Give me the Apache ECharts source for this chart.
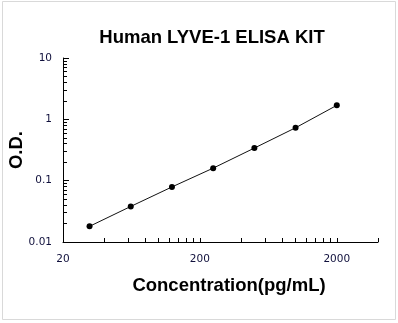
<!DOCTYPE html>
<html>
<head>
<meta charset="utf-8">
<style>
  html, body { margin: 0; padding: 0; background: #fff; }
  #chart { width: 398px; height: 323px; }
</style>
<script src="https://cdn.jsdelivr.net/npm/echarts@6/dist/echarts.min.js"></script>
</head>
<body>
<div id="chart"></div>
<script>
// standard curve points
const concentration = [31.25, 62.5, 125, 250, 500, 1000, 2000]
const od = [0.018, 0.038, 0.079, 0.160, 0.340, 0.729, 1.69]

// axis ticks (real values, log axes)
const xRange = [20, 4000]
const xLabelValues = [20, 200, 2000]
const xLabels = ['20', '200', '2000']
const xTickValues = [40, 60, 80, 100, 120, 140, 160, 180, 200, 400, 600, 800, 1000, 1200, 1400, 1600, 1800, 2000, 4000]
const yRange = [0.01, 10]
const yLabelValues = [0.01, 0.1, 1, 10]
const yLabels = ['0.01', '0.1', '1', '10']
const yMinorValues = [0.02, 0.03, 0.04, 0.05, 0.06, 0.07, 0.08, 0.09, 0.2, 0.3, 0.4, 0.5, 0.6, 0.7, 0.8, 0.9, 2, 3, 4, 5, 6, 7, 8, 9]

const lg = v => Math.log10(v)
const labelFor = (vals, labels) => v => {
  const i = vals.findIndex(x => Math.abs(lg(x) - v) < 1e-6)
  return i < 0 ? '' : labels[i]
}

const labelColor = '#10103c'
const gridBox = { left: 63, right: 20, top: 58, bottom: 81, containLabel: false, outerBoundsMode: 'none' }

const option = {
  backgroundColor: '#fff',
  animation: false,
  graphic: [{
    type: 'rect',
    shape: { x: 2.5, y: 1.5, width: 393, height: 318 },
    style: { fill: 'none', stroke: '#d9d9d9', lineWidth: 1 },
    z: -1
  }, {
    type: 'text',
    x: 212,
    y: 38,
    style: {
      text: 'Human LYVE-1 ELISA KIT',
      font: 'bold 18.5px "Liberation Sans", Arial, sans-serif',
      fill: '#000',
      textAlign: 'center',
      textVerticalAlign: 'middle'
    }
  }],
  grid: [
    { ...gridBox },
    { ...gridBox }
  ],
  xAxis: [{
    type: 'value',
    gridIndex: 0,
    min: lg(xRange[0]),
    max: lg(xRange[1]),
    name: 'Concentration(pg/mL)',
    nameLocation: 'middle',
    nameGap: 34,
    nameMoveOverlap: false,
    nameTextStyle: {
      fontFamily: '"Liberation Sans", Arial, sans-serif',
      fontWeight: 'bold',
      fontSize: 18.5,
      color: '#000',
      padding: [0, 0, 0, 17]
    },
    axisLine: { onZero: false, lineStyle: { color: '#000', width: 1 } },
    axisTick: {
      inside: true,
      length: 4,
      customValues: xTickValues.map(lg),
      lineStyle: { color: '#000' }
    },
    axisLabel: {
      customValues: xLabelValues.map(lg),
      formatter: labelFor(xLabelValues, xLabels),
      margin: 12,
      fontFamily: '"DejaVu Sans", sans-serif',
      fontSize: 10.5,
      color: labelColor
    },
    splitLine: { show: false }
  }, {
    type: 'value',
    gridIndex: 1,
    min: lg(xRange[0]),
    max: lg(xRange[1]),
    show: false
  }],
  yAxis: [{
    type: 'value',
    gridIndex: 0,
    min: lg(yRange[0]),
    max: lg(yRange[1]),
    name: 'O.D.',
    nameLocation: 'middle',
    nameGap: 37,
    nameMoveOverlap: false,
    nameTextStyle: {
      fontFamily: '"Liberation Sans", Arial, sans-serif',
      fontWeight: 'bold',
      fontSize: 18.5,
      color: '#000'
    },
    axisLine: { show: true, onZero: false, lineStyle: { color: '#000', width: 1 } },
    axisTick: {
      show: true,
      inside: true,
      length: 6,
      customValues: yLabelValues.map(lg),
      lineStyle: { color: '#000' }
    },
    axisLabel: {
      customValues: yLabelValues.map(lg),
      formatter: labelFor(yLabelValues, yLabels),
      margin: 11,
      fontFamily: '"DejaVu Sans", sans-serif',
      fontSize: 10.5,
      color: labelColor
    },
    splitLine: { show: false }
  }, {
    type: 'value',
    gridIndex: 1,
    min: lg(yRange[0]),
    max: lg(yRange[1]),
    axisLine: { show: false, onZero: false },
    axisTick: {
      show: true,
      inside: true,
      length: 4,
      customValues: yMinorValues.map(lg),
      lineStyle: { color: '#000' }
    },
    axisLabel: { show: false },
    splitLine: { show: false }
  }],
  series: [{
    type: 'line',
    xAxisIndex: 0,
    yAxisIndex: 0,
    data: concentration.map((c, i) => [lg(c), lg(od[i])]),
    symbol: 'circle',
    symbolSize: 6,
    lineStyle: { color: '#111', width: 1 },
    itemStyle: { color: '#000' }
  }]
}

const chart = echarts.init(document.getElementById('chart'))
chart.setOption(option)
</script>
</body>
</html>
